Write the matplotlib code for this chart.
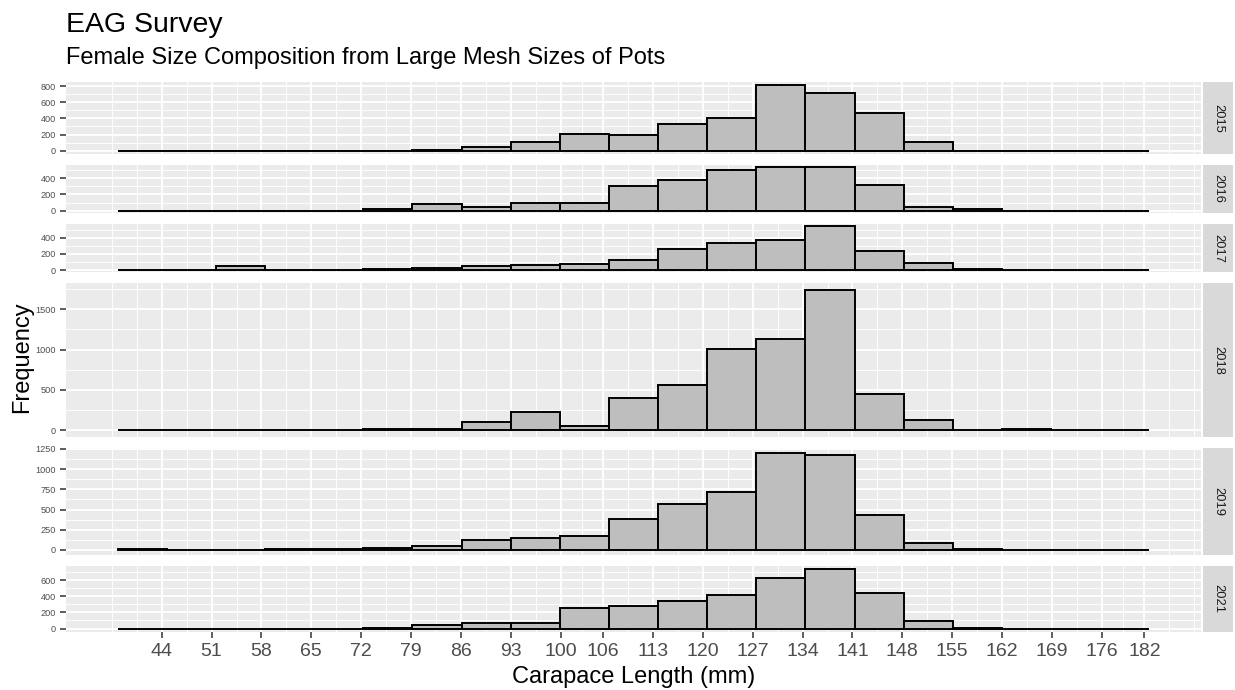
import matplotlib
matplotlib.use('Agg')
import matplotlib.pyplot as plt
import numpy as np

plt.rcParams['font.family'] = ['Liberation Sans', 'DejaVu Sans']

# ---------------- data ----------------
years = ['2015', '2016', '2017', '2018', '2019', '2021']
bin_edges = [37.8, 44.7, 51.6, 58.5, 65.4, 72.3, 79.2, 86.1, 93.0, 99.9, 106.8,
             113.7, 120.6, 127.5, 134.4, 141.3, 148.2, 155.1, 162.0, 168.9, 175.8, 182.7]
counts_2015 = [0, 0, 0, 0, 0, 0, 10, 45, 108, 207, 197, 335, 402, 810, 712, 469, 109, 0, 0, 0, 0]
counts_2016 = [0, 0, 0, 0, 0, 25, 78, 50, 99, 88, 302, 373, 507, 537, 537, 316, 46, 15, 0, 0, 0]
counts_2017 = [0, 0, 45, 0, 0, 13, 30, 47, 60, 80, 122, 265, 335, 374, 546, 241, 82, 12, 0, 0, 0]
counts_2018 = [0, 0, 0, 0, 0, 17, 20, 104, 233, 58, 400, 567, 1012, 1133, 1733, 446, 125, 0, 20, 0, 0]
counts_2019 = [15, 2, 2, 6, 6, 22, 54, 120, 149, 170, 384, 570, 711, 1197, 1177, 434, 87, 12, 0, 0, 0]
counts_2021 = [0, 0, 0, 0, 0, 12, 46, 63, 63, 249, 280, 342, 414, 621, 739, 435, 97, 10, 0, 0, 0]
all_counts = [counts_2015, counts_2016, counts_2017, counts_2018, counts_2019, counts_2021]

x_ticks = [44, 51, 58, 65, 72, 79, 86, 93, 100, 106, 113, 120, 127, 134, 141,
           148, 155, 162, 169, 176, 182]
y_ticks_2015 = [0, 200, 400, 600, 800]
y_ticks_2016 = [0, 200, 400]
y_ticks_2017 = [0, 200, 400]
y_ticks_2018 = [0, 500, 1000, 1500]
y_ticks_2019 = [0, 250, 500, 750, 1000, 1250]
y_ticks_2021 = [0, 200, 400, 600]
all_yticks = [y_ticks_2015, y_ticks_2016, y_ticks_2017, y_ticks_2018, y_ticks_2019, y_ticks_2021]

title = "EAG Survey"
subtitle = "Female Size Composition from Large Mesh Sizes of Pots"
xlabel = "Carapace Length (mm)"
ylabel = "Frequency"

# ---------------- layout ----------------
W, H = 1235, 690
fig = plt.figure(figsize=(W / 100, H / 100), dpi=100)

panel_left, panel_right = 66, 1201
strip_left, strip_right = 1203, 1233
top_px, bottom_px, gap_px = 82, 631.5, 11

PANEL_BG = '#EBEBEB'
STRIP_BG = '#D9D9D9'
BAR_FILL = '#BEBEBE'
TXT_AX = '#4D4D4D'
TICK_C = '#333333'


def minor_breaks(major, lo, hi):
    b = list(major)
    d = b[1] - b[0]
    if lo < b[0]:
        b = [b[0] - d] + b
    if hi > b[-1]:
        b = b + [b[-1] + d]
    out = []
    for a, c in zip(b[:-1], b[1:]):
        out.append((a + c) / 2)
    out = out + [v for v in b if v not in major]
    return [v for v in out if lo <= v <= hi]


xr = bin_edges[-1] - bin_edges[0]
xlo, xhi = bin_edges[0] - 0.05 * xr, bin_edges[-1] + 0.05 * xr
x_minor = minor_breaks(x_ticks, xlo, xhi)

ranges = [1.1 * max(c) for c in all_counts]
avail = (bottom_px - top_px) - gap_px * (len(years) - 1)
scale = avail / sum(ranges)

y_cursor = top_px
widths = np.diff(bin_edges)
for i, (yr, counts, yt) in enumerate(zip(years, all_counts, all_yticks)):
    hpx = ranges[i] * scale
    y0 = H - (y_cursor + hpx)
    ax = fig.add_axes([panel_left / W, y0 / H, (panel_right - panel_left) / W, hpx / H])
    ax.set_facecolor(PANEL_BG)
    for s in ax.spines.values():
        s.set_visible(False)
    ymax = max(counts)
    ylo, yhi = -0.05 * ymax, 1.05 * ymax
    ax.set_xlim(xlo, xhi)
    ax.set_ylim(ylo, yhi)
    ax.set_xticks(x_ticks)
    ax.set_xticks(x_minor, minor=True)
    ax.set_yticks(yt)
    ax.set_yticks(minor_breaks(yt, ylo, yhi), minor=True)
    ax.set_axisbelow(True)
    ax.grid(which='major', color='white', linewidth=1.3)
    ax.grid(which='minor', color='white', linewidth=0.65)
    ax.tick_params(which='minor', length=0)
    ax.tick_params(axis='y', which='major', length=4.0, width=1.1, color=TICK_C,
                   labelsize=6.6, labelcolor=TXT_AX, pad=3.4)
    ax.set_yticklabels([str(v) for v in yt])
    if i == len(years) - 1:
        ax.tick_params(axis='x', which='major', length=4.0, width=1.1, color=TICK_C,
                       labelsize=14, labelcolor=TXT_AX, pad=4.0)
        ax.set_xticklabels([str(v) for v in x_ticks])
    else:
        ax.tick_params(axis='x', which='major', length=0, labelbottom=False)
    ax.bar(bin_edges[:-1], counts, width=widths, align='edge', color=BAR_FILL,
           edgecolor='black', linewidth=1.4, zorder=3)

    sax = fig.add_axes([strip_left / W, y0 / H, (strip_right - strip_left) / W, hpx / H])
    sax.set_facecolor(STRIP_BG)
    sax.set_xticks([])
    sax.set_yticks([])
    for s in sax.spines.values():
        s.set_visible(False)
    sax.text(0.5, 0.5, yr, rotation=270, ha='center', va='center',
             fontsize=9.3, color='#1A1A1A', transform=sax.transAxes)

    y_cursor += hpx + gap_px

fig.text(panel_left / W, 1 - 32 / H, title, fontsize=20.5, color='black',
         ha='left', va='baseline')
fig.text(panel_left / W, 1 - 64 / H, subtitle, fontsize=17, color='black',
         ha='left', va='baseline')
fig.text((panel_left + panel_right) / 2 / W, 1 - 683 / H, xlabel, fontsize=17,
         color='black', ha='center', va='baseline')
fig.text(22 / W, 1 - ((top_px + bottom_px) / 2) / H, ylabel, fontsize=17,
         color='black', rotation=90, ha='center', va='center')

fig.savefig('out.png', dpi=100, facecolor='white')
